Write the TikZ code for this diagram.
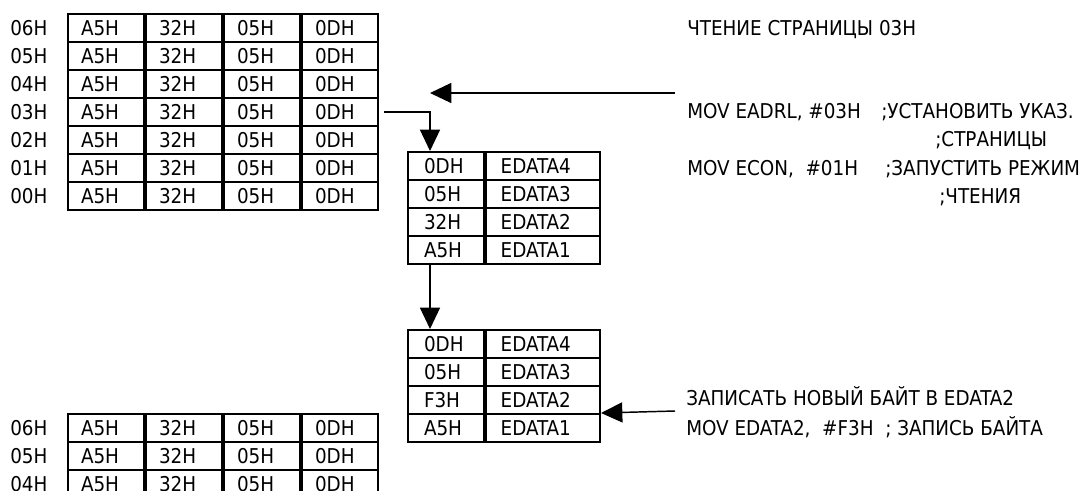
\documentclass[tikz,border=0pt]{standalone}
\usepackage{fontspec}
\setmainfont{DejaVu Sans Condensed}
\usepackage{tikz}
\usetikzlibrary{arrows.meta, positioning}

\tikzset{
  cell/.style={draw, line width=1.5pt, anchor=north west, minimum height=21pt,
    inner xsep=9.75pt, inner ysep=0pt, text width=37.5pt, align=left,
    text height=11pt, text depth=0pt},
  regA/.style={cell, inner xsep=12pt, text width=33pt},
  regB/.style={cell, inner xsep=11pt, text width=63.5pt},
  lbl/.style={anchor=west, inner sep=0pt, text height=11pt, text depth=0pt},
  arr/.style={line width=1.1pt, -{Triangle[length=16pt, width=15pt]}}
}

\begin{document}
\begin{tikzpicture}[x=0.75pt, y=-0.75pt, font=\fontsize{15.3pt}{18pt}\selectfont]
    \clip (0,0) rectangle (1090,490);

    % Flash page before the read
    \foreach \r in {6,...,0} {
        \node[lbl] (pa\r) at (10,{28+28*(6-\r)}) {0\r H};
        \node[cell] (a\r-1) at (67,{13+28*(6-\r)}) {A5H};
        \node[cell] (a\r-2) at (a\r-1.north east) {32H};
        \node[cell] (a\r-3) at (a\r-2.north east) {05H};
        \node[cell] (a\r-4) at (a\r-3.north east) {0DH};
    }

    % Flash page after the write (only the top rows shown)
    \foreach \r in {6,5,4} {
        \node[lbl] (pb\r) at (10,{428+28*(6-\r)}) {0\r H};
        \node[cell] (b\r-1) at (67,{413+28*(6-\r)}) {A5H};
        \node[cell] (b\r-2) at (b\r-1.north east) {32H};
        \node[cell] (b\r-3) at (b\r-2.north east) {05H};
        \node[cell] (b\r-4) at (b\r-3.north east) {0DH};
    }

    % EDATA registers after the read
    \foreach \v/\n [count=\i from 0] in {0DH/4, 05H/3, 32H/2, A5H/1} {
        \node[regA] (r\n) at (407,{151+28*\i}) {\v};
        \node[regB] (e\n) at (r\n.north east) {EDATA\n};
    }

    % EDATA registers after the new byte
    \foreach \v/\n [count=\i from 0] in {0DH/4, 05H/3, F3H/2, A5H/1} {
        \node[regA] (s\n) at (407,{329+28*\i}) {\v};
        \node[regB] (f\n) at (s\n.north east) {EDATA\n};
    }

    % Arrows
    \coordinate (drop) at ([xshift=17.25pt]r4.north west);
    \coordinate (cmdA) at (675,93);
    \coordinate (cmdB) at (675,411);
    \draw[arr] ([xshift=4pt]a3-4.east) -| (drop);
    \draw[arr] (cmdA) -- (cmdA -| drop);
    \draw[arr] ([xshift=17.25pt]r1.south west) -- ([xshift=17.25pt]s4.north west);
    \draw[arr] (cmdB) -- ([yshift=1.5pt]f2.south east);

    % Labels
    \node[lbl] (rdhead) at (687,28) {ЧТЕНИЕ СТРАНИЦЫ 03H};
    \node[lbl] (mov1) at (687,111) {MOV EADRL, \#03H};
    \node[lbl] (cmt1) at (881,111) {;УСТАНОВИТЬ УКАЗ.};
    \node[lbl] (cmt1b) at (935,139) {;СТРАНИЦЫ};
    \node[lbl] (mov2) at (687,168) {MOV ECON,~~\#01H};
    \node[lbl] (cmt2) at (885,168) {;ЗАПУСТИТЬ РЕЖИМ};
    \node[lbl] (cmt2b) at (939,196) {;ЧТЕНИЯ};
    \node[lbl] (wrhead) at (686,398) {ЗАПИСАТЬ НОВЫЙ БАЙТ В EDATA2};
    \node[lbl] (mov3) at (686,428) {MOV EDATA2,~~\#F3H~~; ЗАПИСЬ БАЙТА};
\end{tikzpicture}
\end{document}
